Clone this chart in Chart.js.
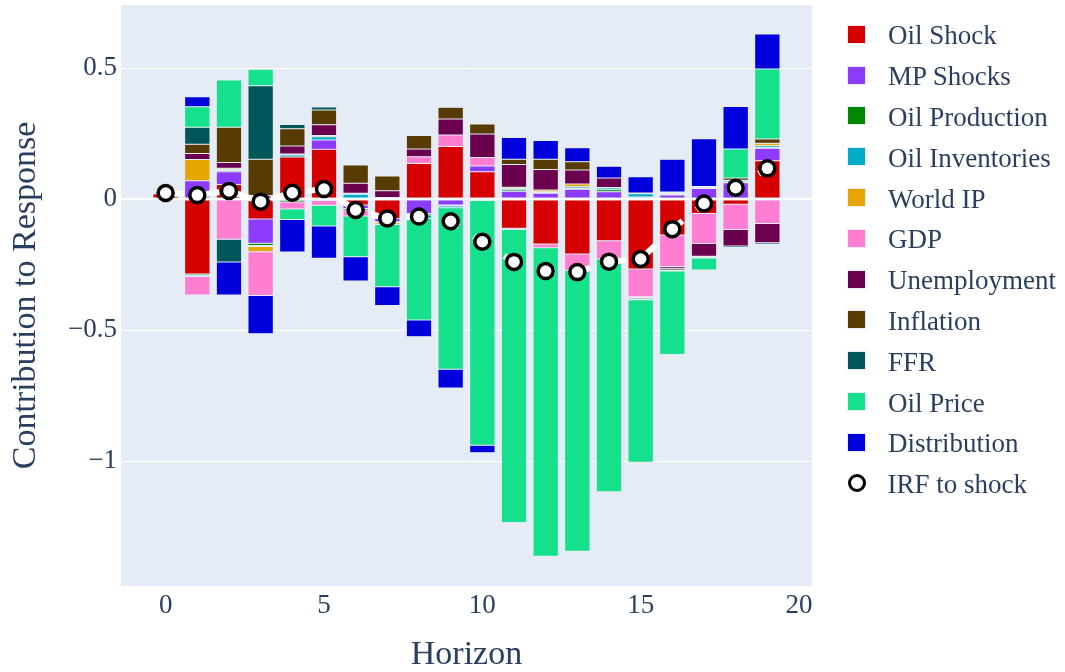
<!DOCTYPE html>
<html>
<head>
<meta charset="utf-8">
<title>Contribution to Response</title>
<script src="https://cdn.jsdelivr.net/npm/chart.js@4.4.1/dist/chart.umd.min.js"></script>
<style>
  body { margin: 0; background: #fff; }
  #wrap { position: relative; width: 1065px; height: 672px; }
  #legend {
    position: absolute; left: 847px; top: 14px;
    font-family: 'Liberation Serif', 'Times New Roman', serif;
    font-size: 27px; color: #2a3f5f;
  }
  .item { display: flex; align-items: center; height: 40.8px; white-space: nowrap; }
  .item span { padding-top: 3px; }
  .swatch { width: 19px; height: 19px; box-sizing: border-box; border: 0.5px solid #e5ecf6; margin-right: 22px; }
  .dot { width: 18px; height: 18px; box-sizing: border-box; border: 3px solid #000; border-radius: 50%; background: #fff; margin: 0 22px 0 0.5px; }
</style>
</head>
<body>
<div id="wrap">
  <canvas id="chart" width="1065" height="672"></canvas>
  <div id="legend"></div>
</div>
<script>
// horizons and contributions
const horizons = [0, 1, 2, 3, 4, 5, 6, 7, 8, 9, 10, 11, 12, 13, 14, 15, 16, 17, 18, 19];

const oilShock       = [0.02, -0.286, 0.055, -0.076, 0.16, 0.19, -0.023, -0.074, 0.136, 0.2, 0.104, -0.112, -0.172, -0.21, -0.159, -0.267, -0.137, -0.055, -0.02, 0.146];
const mpShocks       = [0, 0.07, 0.049, -0.093, -0.005, 0.035, -0.013, -0.013, -0.055, -0.023, 0.022, 0.03, 0.022, 0.037, 0.028, 0, 0.015, 0.04, 0.062, 0.048];
const oilProduction  = [0, -0.005, 0.005, -0.008, -0.006, -0.006, -0.006, -0.004, -0.006, -0.004, -0.003, 0.005, 0.003, 0.004, 0.007, 0.008, 0.004, 0.002, 0.003, 0.004];
const oilInventories = [0, -0.005, 0.004, -0.004, 0.008, 0.013, 0.018, 0.006, -0.012, -0.006, -0.003, 0.005, 0.003, 0.006, 0.007, 0.012, 0.004, 0.004, 0.005, 0.006];
const worldIP        = [0, 0.081, 0.004, -0.02, 0.004, 0.004, 0.004, -0.006, 0, 0, 0, 0.005, 0.006, 0.01, 0.002, 0.003, 0.004, 0.002, 0.002, 0.009];
const gdp            = [0, -0.07, -0.154, -0.167, -0.027, -0.018, -0.023, 0, 0.025, 0.044, 0.032, -0.004, -0.014, -0.062, -0.07, -0.106, -0.121, -0.115, -0.096, -0.093];
const unemployment   = [0, 0.023, 0.022, 0.012, 0.03, 0.041, 0.038, 0.026, 0.03, 0.061, 0.09, 0.087, 0.079, 0.054, 0.036, -0.003, -0.006, -0.048, -0.063, -0.074];
const inflation      = [0, 0.035, 0.135, 0.14, 0.066, 0.057, 0.07, 0.056, 0.051, 0.045, 0.038, 0.02, 0.039, 0.031, 0, -0.005, -0.007, -0.003, 0.008, 0.016];
const ffr            = [0, 0.065, -0.086, 0.28, 0.016, 0.011, 0, 0, 0, 0, 0, 0, 0, 0, 0, -0.003, -0.004, -0.004, -0.006, -0.006];
const oilPrice       = [0, 0.078, 0.18, 0.063, -0.04, -0.079, -0.155, -0.238, -0.389, -0.617, -0.934, -1.119, -1.177, -1.072, -0.888, -0.621, -0.318, -0.046, 0.111, 0.267];
const distribution   = [0, 0.038, -0.126, -0.146, -0.124, -0.123, -0.093, -0.071, -0.064, -0.071, -0.028, 0.083, 0.071, 0.054, 0.045, 0.062, 0.125, 0.182, 0.162, 0.134];
const irf            = [0.023, 0.015, 0.031, -0.01, 0.024, 0.038, -0.042, -0.074, -0.067, -0.085, -0.163, -0.24, -0.275, -0.279, -0.239, -0.229, -0.115, -0.017, 0.043, 0.117];

const seriesNames = ['Oil Shock', 'MP Shocks', 'Oil Production', 'Oil Inventories', 'World IP', 'GDP',
  'Unemployment', 'Inflation', 'FFR', 'Oil Price', 'Distribution'];
const seriesValues = [oilShock, mpShocks, oilProduction, oilInventories, worldIP, gdp,
  unemployment, inflation, ffr, oilPrice, distribution];
const seriesColors = ['#d60000', '#8c3bff', '#018700', '#00acc6', '#e6a500', '#ff7ed1',
  '#6b004f', '#573b00', '#005659', '#15e18c', '#0000dd'];

const fontFamily = "'Liberation Serif', 'Times New Roman', serif";
const textColor = '#2a3f5f';

const datasets = seriesNames.map((name, k) => ({
  type: 'bar',
  label: name,
  data: horizons.map((h, i) => ({ x: h, y: seriesValues[k][i] })),
  backgroundColor: seriesColors[k],
  borderColor: '#e5ecf6',
  borderWidth: 0.5,
  borderSkipped: false,
  barPercentage: 0.8,
  categoryPercentage: 1,
  order: 1
}));

datasets.push({
  type: 'line',
  label: 'IRF to shock',
  data: horizons.map((h, i) => ({ x: h, y: irf[i] })),
  stack: 'irf',
  borderColor: '#ffffff',
  borderWidth: 6,
  borderDash: [18, 18],
  tension: 0,
  pointRadius: 7.5,
  pointBorderWidth: 3.5,
  pointBackgroundColor: '#ffffff',
  pointBorderColor: '#000000',
  order: 0
});

const plotBg = {
  id: 'plotBg',
  beforeDraw(chart) {
    const { ctx, chartArea: a } = chart;
    ctx.save();
    ctx.fillStyle = '#e5ecf6';
    ctx.fillRect(a.left, a.top, a.right - a.left, a.bottom - a.top);
    ctx.restore();
  }
};

const chart = new Chart(document.getElementById('chart'), {
  type: 'bar',
  data: { datasets },
  plugins: [plotBg],
  options: {
    responsive: false,
    animation: false,
    devicePixelRatio: 1,
    layout: { autoPadding: false, padding: { top: 5, right: 253, bottom: 0, left: 0 } },
    plugins: { legend: { display: false }, tooltip: { enabled: false } },
    scales: {
      x: {
        type: 'linear',
        stacked: true,
        offset: false,
        min: -1.41,
        max: 20.41,
        grid: { display: false, drawTicks: false },
        border: { display: false },
        ticks: {
          stepSize: 5,
          includeBounds: false,
          padding: 4,
          color: textColor,
          font: { family: fontFamily, size: 27 }
        },
        title: {
          display: true,
          text: 'Horizon',
          color: textColor,
          font: { family: fontFamily, size: 34, lineHeight: 1 },
          padding: { top: 0, bottom: 0 }
        },
        afterFit(scale) {
          scale.height = 86;
          scale.paddingLeft = 0;
          scale.paddingRight = 0;
        }
      },
      y: {
        stacked: true,
        min: -1.477,
        max: 0.7405,
        grid: {
          color: '#ffffff',
          lineWidth: ctx => (ctx.tick && ctx.tick.value === 0 ? 2 : 1),
          drawTicks: false
        },
        border: { display: false },
        ticks: {
          stepSize: 0.5,
          includeBounds: false,
          padding: 4,
          color: textColor,
          font: { family: fontFamily, size: 27 },
          callback: v => String(v).replace('-', '\u2212')
        },
        title: {
          display: true,
          text: 'Contribution to Response',
          color: textColor,
          font: { family: fontFamily, size: 34, lineHeight: 1 },
          padding: { top: 9, bottom: 0 }
        },
        afterFit(scale) {
          scale.width = 121;
          scale.paddingTop = 0;
          scale.paddingBottom = 0;
        }
      }
    }
  }
});

// legend built from the chart's own datasets
const legendEl = document.getElementById('legend');
chart.data.datasets.forEach(ds => {
  const row = document.createElement('div');
  row.className = 'item';
  const mark = document.createElement('div');
  if (ds.type === 'line') {
    mark.className = 'dot';
  } else {
    mark.className = 'swatch';
    mark.style.background = ds.backgroundColor;
  }
  const label = document.createElement('span');
  label.textContent = ds.label;
  row.appendChild(mark);
  row.appendChild(label);
  legendEl.appendChild(row);
});
</script>
</body>
</html>
